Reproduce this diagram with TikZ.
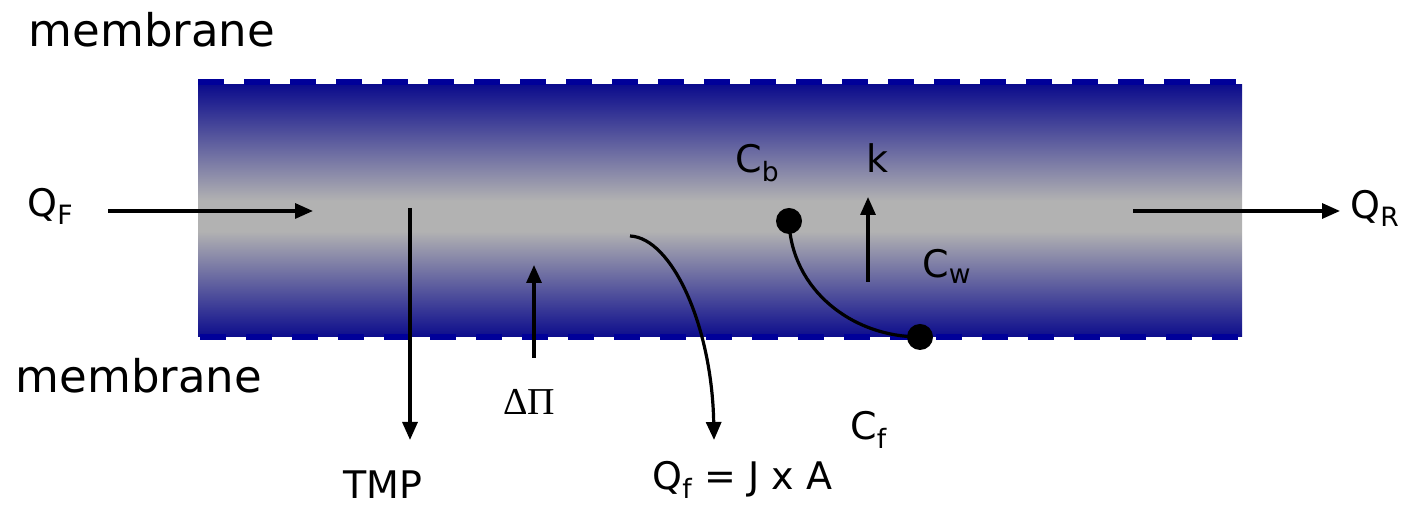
\documentclass[tikz,border=0pt]{standalone}
\usepackage{fontspec}
\setmainfont{DejaVu Sans}
\newfontfamily\grecfont{Liberation Serif}
\usetikzlibrary{arrows.meta}

\definecolor{bleutube}{RGB}{12,12,140}
\definecolor{bleutiret}{RGB}{0,0,153}
\definecolor{grismilieu}{RGB}{178,178,178}

% Degrade du tube
\pgfdeclareverticalshading{tube}{100bp}{color(0bp)=(bleutube); color(25bp)=(bleutube);
  color(46bp)=(grismilieu); color(52bp)=(grismilieu); color(75bp)=(bleutube); color(100bp)=(bleutube)}

\tikzset{
  fleche/.style={-{Triangle[length=9pt,width=7.5pt]}, line width=1.6pt},
  etiquette/.style={font=\fontsize{19}{22}\selectfont, inner sep=0pt, anchor=base west},
  titre/.style={font=\fontsize{22.5}{26}\selectfont, inner sep=0pt},
  tiret/.style={bleutiret, line width=3pt, dash pattern=on 13pt off 10pt},
  point/.style={circle, fill=black, minimum size=13pt, inner sep=0pt}
}

\begin{document}
\begin{tikzpicture}[x=0.5pt,y=0.5pt]

% Cadre
\useasboundingbox (0,0) rectangle (1406,506);

% Tube
\shade[shading=tube] (198,169) rectangle (1242,421);

% Membranes
\draw[tiret] (198,424) -- (1242,424);
\draw[tiret] (200,168.5) -- (1242,168.5);
\node[titre] (membraneh) at (152,476) {membrane};
\node[titre] (membraneb) at (139,130) {membrane};

% Debit d'alimentation
\node[etiquette] (qf) at (27,289) {Q\textsubscript{F}};
\coordinate (qfdeb) at (108,295);
\coordinate (qffin) at (313,295);
\draw[fleche] (qfdeb) -- (qffin);

% Retentat
\node[etiquette] (qr) at (1350,287) {Q\textsubscript{R}};
\coordinate (qrdeb) at (1133,295);
\coordinate (qrfin) at (1340,295);
\draw[fleche] (qrdeb) -- (qrfin);

% TMP
\node[etiquette] (tmp) at (343,7) {TMP};
\coordinate (tmpdeb) at (410,298);
\coordinate (tmpfin) at (410,66);
\draw[fleche] (tmpdeb) -- (tmpfin);

% Pression osmotique
\node[etiquette, font=\fontsize{19}{22}\grecfont] (dpi) at (503,91) {ΔΠ};
\coordinate (dpideb) at (534,148);
\coordinate (dpifin) at (534,241);
\draw[fleche] (dpideb) -- (dpifin);

% Flux de permeat
\node[etiquette] (qperm) at (652,16) {Q\textsubscript{f} = J x A};
\coordinate (qpermdeb) at (630,270);
\coordinate (qpermfin) at (714,66);
\draw[fleche] (qpermdeb) .. controls +(42,-2) and +(-2,114) .. (qpermfin);

% Concentrations
\node[point] (cb) at (789,285) {};
\node[point] (cw) at (920,169) {};
\draw[line width=1.6pt] (cb.center) to[out=-88,in=180] (cw.center);
\node[etiquette] (cblab) at (735,333) {C\textsubscript{b}};
\node[etiquette] (cwlab) at (922,228) {C\textsubscript{w}};
\node[etiquette] (cflab) at (850,66) {C\textsubscript{f}};

% Transfert de matiere
\node[etiquette] (k) at (866,333) {k};
\coordinate (kdeb) at (868,224);
\coordinate (kfin) at (868,309);
\draw[fleche] (kdeb) -- (kfin);

\end{tikzpicture}
\end{document}
